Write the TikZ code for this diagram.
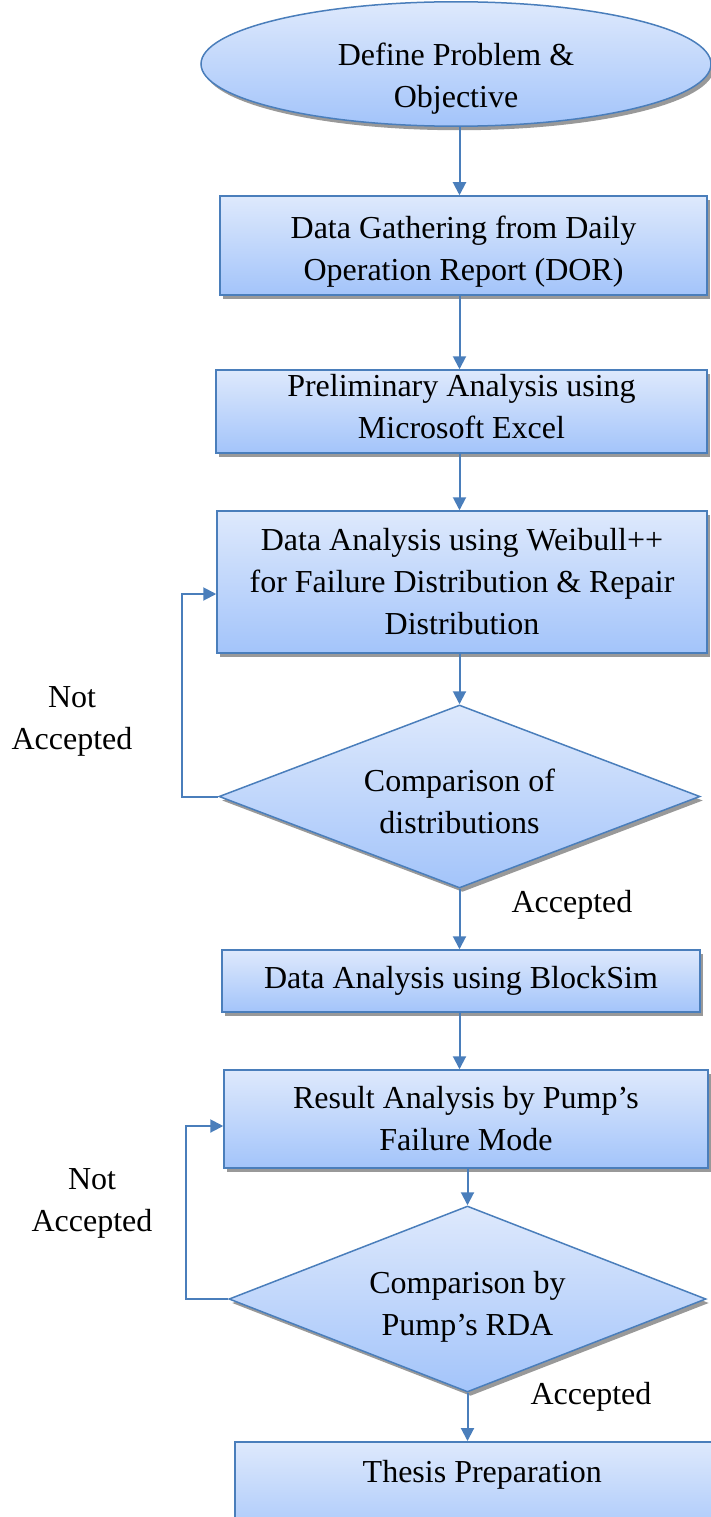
\documentclass[tikz,border=0pt]{standalone}
\usepackage{fontspec}
\setmainfont{Liberation Serif}
\usepackage{tikz}
\usetikzlibrary{positioning, calc, shapes.geometric, shadows, arrows.meta}

\definecolor{edgeblue}{RGB}{74,126,187}
\definecolor{filltop}{RGB}{222,233,252}
\definecolor{fillbot}{RGB}{163,196,250}

\begin{document}
\begin{tikzpicture}[x=1pt, y=1pt,
    every node/.style={font=\fontsize{32}{42}\selectfont, align=center},
    flowbox/.style={draw=edgeblue, line width=1.5pt, top color=filltop, bottom color=fillbot,
        inner sep=0pt, drop shadow={opacity=1, fill=black!40, shadow xshift=3pt, shadow yshift=-4pt}},
    proc/.style={flowbox, rectangle},
    goalshape/.style={flowbox, ellipse},
    check/.style={flowbox, diamond, aspect=2.6},
    arr/.style={draw=edgeblue, line width=2pt, -{Triangle[width=13pt,length=13pt]}}]
                \useasboundingbox (0,0) rectangle (711,-1517);

                \node[goalshape, minimum width=510, minimum height=120, text height=88pt, text depth=-6pt] (goal) at (456,-64) {Define Problem \&\\Objective};
                \node[proc, minimum width=487, minimum height=99, text height=77pt, text depth=8pt] (gather) at (463.5,-245.5) {Data Gathering from Daily\\Operation Report (DOR)};
                \node[proc, minimum width=491, minimum height=83, text height=68pt, text depth=14pt] (prelim) at (461.5,-411.5) {Preliminary Analysis using\\Microsoft Excel};
                \node[proc, minimum width=490, minimum height=142] (weibull) at (462,-582) {Data Analysis using Weibull++\\for Failure Distribution \& Repair\\Distribution};
                \node[check, minimum width=481, minimum height=183, text height=86pt, text depth=13pt] (compdist) at (459.5,-796.5) {Comparison of\\distributions};
                \node[proc, minimum width=478, minimum height=62] (blocksim) at (461,-981) {Data Analysis using BlockSim};
                \node[proc, minimum width=484, minimum height=98] (result) at (466,-1119) {Result Analysis by Pump’s\\Failure Mode};
                \node[check, minimum width=477, minimum height=186, text height=86pt, text depth=14pt] (comprda) at (467.5,-1299) {Comparison by\\Pump’s RDA};
                \node[proc, anchor=north west, minimum width=495, text height=34pt, text depth=58pt, inner ysep=7pt] (thesis) at (234,-1441) {Thesis Preparation};

                \node (notacc1) at (72,-721) {Not\\Accepted};
                \node (acc1) at (572,-905) {Accepted};
                \node (notacc2) at (92,-1203) {Not\\Accepted};
                \node (acc2) at (591,-1397) {Accepted};

                \draw[arr] (goal.south -| compdist.north) -- (compdist.north |- gather.north);
                \draw[arr] (gather.south -| compdist.north) -- (compdist.north |- prelim.north);
                \draw[arr] (prelim.south -| compdist.north) -- (compdist.north |- weibull.north);
                \draw[arr] (weibull.south -| compdist.north) -- (compdist.north);
                \draw[arr] (compdist.south) -- (compdist.south |- blocksim.north);
                \draw[arr] (blocksim.south -| compdist.south) -- (compdist.south |- result.north);
                \draw[arr] (result.south -| comprda.north) -- (comprda.north);
                \draw[arr] (comprda.south) -- (comprda.south |- thesis.north);

                \draw[arr] (compdist.west) -- ++(-36,0) |- ([yshift=-12pt]weibull.west);
                \draw[arr] (comprda.west) -- ++(-42,0) |- ([yshift=-7pt]result.west);
            \end{tikzpicture}
\end{document}
